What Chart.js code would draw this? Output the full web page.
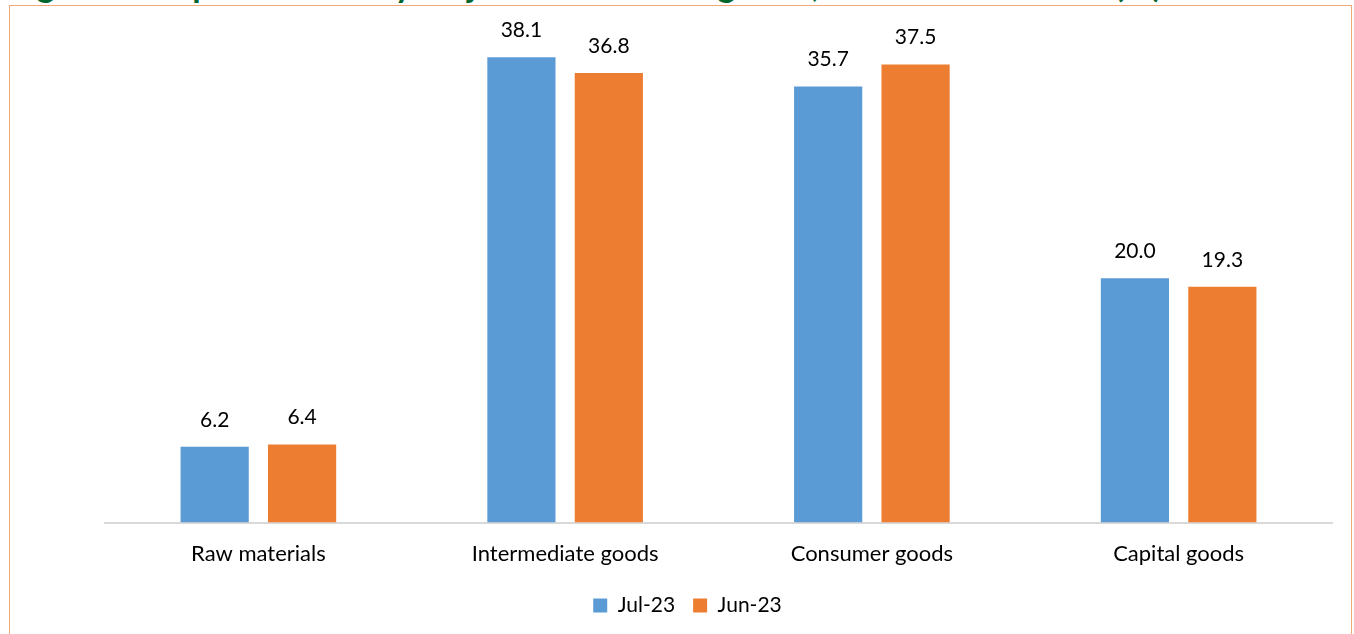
<!DOCTYPE html>
<html>
<head>
<meta charset="utf-8">
<script src="https://cdn.jsdelivr.net/npm/chart.js@4"></script>
<style>
  html, body { margin: 0; padding: 0; background: #fff; overflow: hidden; }
  #wrap { position: relative; width: 1354px; height: 634px; }
  #title {
    position: absolute; left: 8px; top: -37px; white-space: nowrap;
    font: bold 34px "Lato", sans-serif; color: #00662e;
  }
  #frame {
    position: absolute; left: 9px; top: 5px; width: 1341px; height: 700px;
    border: 1.5px solid #f2a878; background: #fff;
  }
  #chartCanvas { position: absolute; left: 0; top: 0; }
</style>
</head>
<body>
<div id="wrap">
  <div id="title"></div>
  <div id="frame"></div>
  <canvas id="chartCanvas" width="1354" height="634"></canvas>
</div>
<script>
const titleText = "Figure 3: Import shares by major end-use categories, Jul-23 and Jun-23 (%)";
const categories = ["Raw materials", "Intermediate goods", "Consumer goods", "Capital goods"];
const jul23 = [6.2, 38.1, 35.7, 20.0];
const jun23 = [6.4, 36.8, 37.5, 19.3];

// title sits mostly above the crop; stretch it so "(%)" ends near the right place
const titleEl = document.getElementById("title");
titleEl.textContent = titleText;
const mctx = document.createElement("canvas").getContext("2d");
mctx.font = "bold 34px Lato";
const head = titleText.slice(0, titleText.indexOf("("));
const spacing = (1110 - mctx.measureText(head).width) / head.length;
titleEl.style.letterSpacing = Math.max(0, spacing) + "px";

// value labels above each bar
const barLabels = {
  id: "barLabels",
  afterDatasetsDraw(chart) {
    const ctx = chart.ctx;
    ctx.save();
    ctx.font = "21px Lato";
    ctx.fillStyle = "#000";
    ctx.textAlign = "center";
    ctx.textBaseline = "middle";
    chart.data.datasets.forEach((ds, i) => {
      chart.getDatasetMeta(i).data.forEach((bar, j) => {
        ctx.fillText(ds.data[j].toFixed(1), bar.x, bar.y - 27);
      });
    });
    ctx.restore();
  }
};

const ctx = document.getElementById("chartCanvas");

const chart = new Chart(ctx, {
  type: "bar",
  data: {
    labels: categories,
    datasets: [
      {
        label: "Jul-23",
        data: jul23,
        backgroundColor: "#5b9bd5",
        categoryPercentage: 0.57,
        barPercentage: 0.78
      },
      {
        label: "Jun-23",
        data: jun23,
        backgroundColor: "#ed7d31",
        categoryPercentage: 0.57,
        barPercentage: 0.78
      }
    ]
  },
  options: {
    responsive: false,
    animation: false,
    layout: { padding: { left: 21, right: 0, top: 34, bottom: 8 } },
    plugins: {
      legend: {
        position: "bottom",
        labels: {
          boxWidth: 14,
          boxHeight: 14,
          color: "#000",
          font: { family: "Lato", size: 21 },
          padding: 18
        }
      },
      tooltip: { enabled: false }
    },
    scales: {
      x: {
        grid: { display: false },
        border: { color: "#d9d9d9", width: 2 },
        ticks: {
          color: "#000",
          font: { family: "Lato", size: 22 },
          padding: 10
        }
      },
      y: {
        min: 0,
        max: 40,
        grid: { display: false },
        border: { display: false },
        ticks: { display: false },
        afterFit(scale) { scale.width = 84; }
      },
      y2: {
        type: "linear",
        position: "right",
        grid: { display: false },
        border: { display: false },
        ticks: { display: false },
        afterFit(scale) { scale.width = 22; }
      }
    }
  },
  plugins: [barLabels]
});
</script>
</body>
</html>
